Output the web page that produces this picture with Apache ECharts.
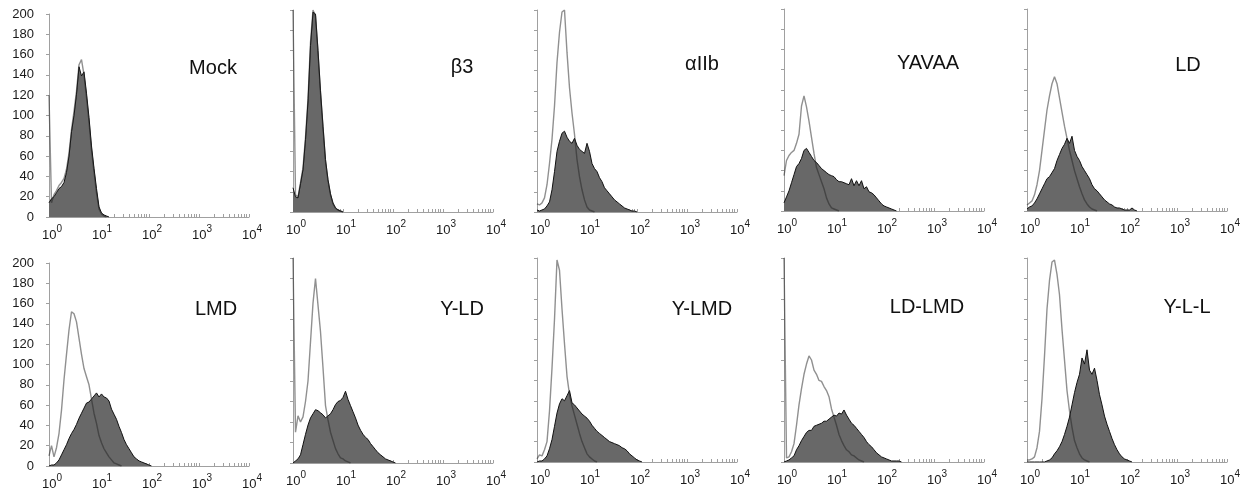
<!DOCTYPE html>
<html>
<head>
<meta charset="utf-8">
<script src="https://cdn.jsdelivr.net/npm/echarts@6/dist/echarts.min.js"></script>
<style>html,body{margin:0;background:#fff}#main{width:1251px;height:496px}</style>
</head>
<body>
<div id="main"></div>
<script>
// histogram bins: log10 of fluorescence, one every 0.05 decade starting at 10^0
var BIN = 0.05;
var titles = ['Mock', 'β3', 'αIIb', 'YAVAA', 'LD', 'LMD', 'Y-LD', 'Y-LMD', 'LD-LMD', 'Y-L-L'];
var xExponents = [0, 1, 2, 3, 4];

// open histogram (control) and filled histogram (stained), counts per bin
var ctrl_Mock = [120,14,22,26,31,34,38,47,63,86,104,124,150,155,140,118,94,66,45,24,8,3,1,0];
var stain_Mock = [14,18,20,24,28,30,34,44,60,84,100,121,148,139,143,122,98,70,48,28,10,4,2,1,0];
var ctrl_B3 = [200,17,15,29,44,74,112,168,200,194,158,118,84,50,31,17,8,4,2,1,0];
var stain_B3 = [24,15,14,28,42,72,110,165,198,196,160,120,85,52,32,18,9,4,2,1,0];
var ctrl_A2b = [8,7,9,14,27,48,72,105,148,178,198,200,158,123,98,77,52,35,22,12,5,2,1,0];
var stain_A2b = [2,1,2,3,6,10,22,40,60,70,78,80,74,70,68,73,66,62,60,58,68,60,48,43,40,34,30,24,21,18,15,12,10,8,6,4,3,2,1,1,0];
var ctrl_YAVAA = [35,50,55,58,60,67,76,104,114,103,89,73,57,43,36,29,22,13,7,3,2,1,0];
var stain_YAVAA = [8,14,20,28,36,44,47,52,60,62,58,54,50,48,45,42,40,38,36,35,34,31,29,29,28,27,26,32,25,30,25,30,22,24,19,18,16,13,10,7,5,4,3,2,1,0];
var ctrl_LD = [6,8,10,16,26,40,60,80,100,114,126,133,126,112,98,84,72,60,50,40,32,24,17,11,7,4,2,1,0];
var stain_LD = [2,4,5,8,12,17,22,27,32,34,38,42,50,56,62,66,72,67,74,60,54,50,44,40,36,32,26,22,20,17,14,11,9,7,6,4,3,3,2,1,1,1,3,1,0];
var ctrl_LMD = [10,20,9,18,32,55,85,110,134,152,150,142,126,110,96,88,80,66,52,42,30,23,17,13,9,6,3,2,1,0];
var stain_LMD = [0,1,1,3,6,11,16,21,27,32,36,41,47,52,57,62,63,66,69,72,68,71,68,67,64,56,51,46,39,33,26,21,17,13,9,7,5,4,3,2,1,0];
var ctrl_YLD = [200,30,46,40,45,60,80,118,156,180,154,128,93,56,42,30,22,14,9,5,4,2,1,0];
var stain_YLD = [0,2,4,8,18,28,37,44,48,52,51,49,47,44,46,48,52,57,60,61,64,70,62,56,50,44,37,32,28,25,23,19,16,13,10,8,6,4,3,2,1,0];
var ctrl_YLMD = [3,7,6,12,20,50,92,140,198,188,150,116,84,66,55,46,37,28,20,14,8,5,3,1,0];
var stain_YLMD = [0,1,1,3,6,13,22,35,48,57,62,60,65,70,58,56,53,50,47,45,43,40,36,33,30,28,26,24,22,20,19,18,17,16,14,13,11,8,6,4,2,1,0];
var ctrl_LDLMD = [200,4,5,10,18,36,56,72,86,96,104,100,90,86,80,79,74,70,64,52,44,36,27,21,16,12,10,7,6,4,2,1,0];
var stain_LDLMD = [0,1,2,4,6,12,16,21,25,29,31,31,35,36,37,38,40,40,42,44,46,45,48,47,51,46,42,38,36,33,30,27,24,20,17,15,12,9,7,5,4,3,2,1,1,1,1,0];
var ctrl_YLL = [2,2,3,5,14,30,62,104,150,178,196,198,184,164,130,100,70,50,34,21,14,8,4,2,1,0];
var stain_YLL = [0,0,0,0,0,0,0,0,1,2,4,8,11,15,20,27,35,44,56,68,78,86,102,96,110,90,86,92,80,66,56,45,37,30,23,17,12,8,5,3,2,1,0];

var ctrlData = [ctrl_Mock, ctrl_B3, ctrl_A2b, ctrl_YAVAA, ctrl_LD, ctrl_LMD, ctrl_YLD, ctrl_YLMD, ctrl_LDLMD, ctrl_YLL];
var stainData = [stain_Mock, stain_B3, stain_A2b, stain_YAVAA, stain_LD, stain_LMD, stain_YLD, stain_YLMD, stain_LDLMD, stain_YLL];

// layout of the 2 x 5 panels
var colLeft = [49, 293, 537, 784, 1027];
var tops = [14, 10, 10, 9, 9, 263, 258, 258, 258, 258];
var bottoms = [217, 212, 212, 211, 211, 466, 463, 462, 462, 462];
var titleX = [213, 462, 702, 928, 1188, 216, 462, 702, 927, 1187];
var titleY = [68, 67, 64, 63, 65, 309, 309, 309, 307, 307];

var FONT = '"Liberation Sans", Arial, sans-serif';

function toPoints(vals) {
	return vals.map(function(v, i) {
		return [+(i * BIN).toFixed(2), v];
	});
}

// log minor ticks 2..9 inside each decade
var tickVals = [];
for (var d = 0; d < 4; d++) {
	for (var k = 1; k <= 9; k++) tickVals.push(d + Math.log10(k));
}
tickVals.push(4);

var grids = [], xAxes = [], yAxes = [], series = [], texts = [];
for (var i = 0; i < 10; i++) {
	grids.push({
		left: colLeft[i % 5], top: tops[i], width: 200, height: bottoms[i] - tops[i],
		containLabel: false, outerBoundsMode: 'none'
	});
	xAxes.push({
		type: 'value', gridIndex: i, min: 0, max: 4, interval: 1,
		axisLine: {lineStyle: {color: '#a0a0a0', width: 1}},
		axisTick: {show: true, inside: true, length: 3, customValues: tickVals, lineStyle: {color: '#a0a0a0'}},
		splitLine: {show: false},
		axisLabel: {
			margin: 7,
			formatter: function(v) {
				return '{p| }{a|10}{b|' + xExponents[Math.round(v)] + '}';
			},
			rich: {
				p: {width: 6, lineHeight: 18, fontSize: 10},
				a: {fontSize: 13, fontFamily: FONT, color: '#1a1a1a', verticalAlign: 'bottom', lineHeight: 13},
				b: {fontSize: 10, fontFamily: FONT, color: '#1a1a1a', verticalAlign: 'top', lineHeight: 10}
			}
		}
	});
	yAxes.push({
		type: 'value', gridIndex: i, min: 0, max: 200, interval: 20,
		axisLine: {show: true, lineStyle: {color: '#a0a0a0', width: 1}},
		axisTick: {show: true, length: 3, lineStyle: {color: '#a0a0a0'}},
		splitLine: {show: false},
		axisLabel: {show: i % 5 === 0, margin: 15, color: '#1a1a1a', fontSize: 13, fontFamily: FONT}
	});
	series.push({
		type: 'line', xAxisIndex: i, yAxisIndex: i, data: toPoints(stainData[i]),
		symbol: 'none', silent: true, z: 2,
		lineStyle: {color: '#111', width: 1},
		areaStyle: {color: '#686868', opacity: 1}
	});
	series.push({
		type: 'line', xAxisIndex: i, yAxisIndex: i, data: toPoints(ctrlData[i]),
		symbol: 'none', silent: true, z: 3,
		lineStyle: {color: '#222', width: 1.4, opacity: 0.5}
	});
	texts.push({
		type: 'text', x: titleX[i], y: titleY[i], z: 10,
		style: {
			text: titles[i], fill: '#111', font: '20px ' + FONT,
			textAlign: 'center', textVerticalAlign: 'middle', align: 'center', verticalAlign: 'middle'
		}
	});
}

var myChart = echarts.init(document.getElementById('main'));
myChart.setOption({
	animation: false,
	backgroundColor: '#fff',
	grid: grids,
	xAxis: xAxes,
	yAxis: yAxes,
	series: series,
	graphic: texts
});
</script>
</body>
</html>
